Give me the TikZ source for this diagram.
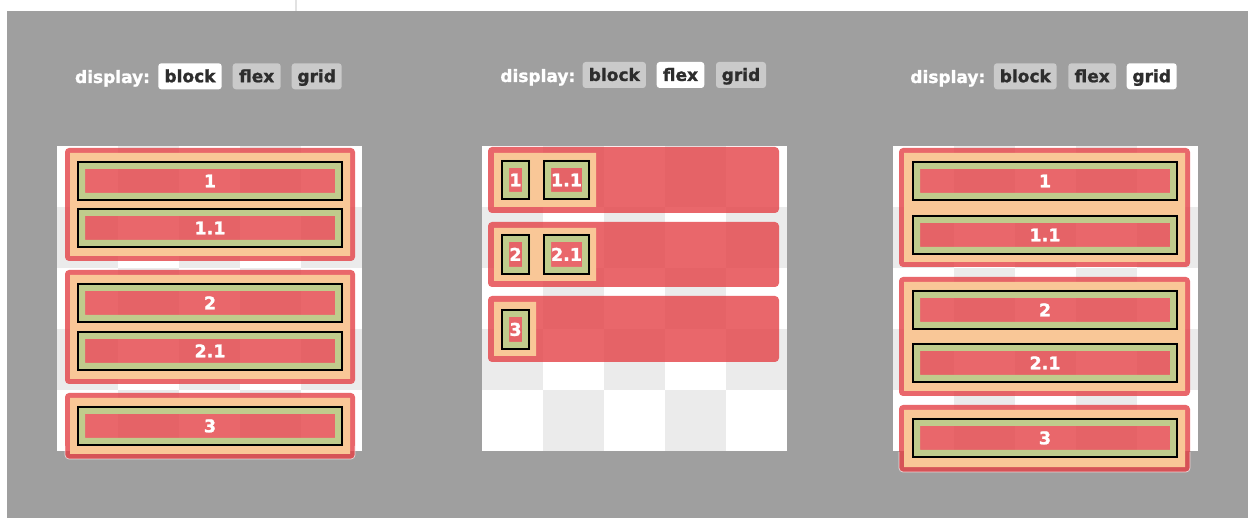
\documentclass[tikz,border=0pt]{standalone}
\usepackage{fontspec}
\setmainfont{DejaVu Sans}[BoldFeatures={FakeBold=1.3}]
\definecolor{bgc}{RGB}{159,159,159}
\definecolor{chk}{RGB}{235,235,235}
\definecolor{redc}{RGB}{228,65,70}
\definecolor{orc}{RGB}{249,199,151}
\definecolor{grc}{RGB}{192,203,140}
\definecolor{btnc}{RGB}{202,202,202}
\definecolor{txtc}{RGB}{45,45,45}
\definecolor{linec}{RGB}{226,226,226}
\tikzset{
  outerbox/.style={fill=redc, fill opacity=0.8, rounded corners=4pt},
  blk/.style={draw=black, line width=1.6pt},
  num/.style={text=white, font=\fontsize{17.5}{17.5}\selectfont\bfseries, inner sep=0pt, text height=12.6pt, text depth=0pt},
  lab/.style={text=white, font=\fontsize{17}{17}\selectfont\bfseries, inner sep=0pt, anchor=base},
  btn/.style={fill=btnc, text=txtc, rounded corners=3pt, font=\fontsize{17}{17}\selectfont\bfseries, inner sep=0pt, minimum height=26pt, text height=11.8pt, text depth=0pt},
  on/.style={fill=white},
  edgeline/.style={draw=white, draw opacity=0.7, line width=0.7pt, rounded corners=4pt},
}
\newcommand\checker[2]{%
  \fill[white] (#1,#2) rectangle ++(305,305);
  \foreach \i in {0,...,4}{\foreach \j in {0,...,4}{%
    \pgfmathtruncatemacro\pp{mod(\i+\j,2)}%
    \ifnum\pp=1 \fill[chk] ({#1+61*\i},{#2+61*\j}) rectangle ++(61,61);\fi}}}
\newcommand\child[6]{%
  \fill[grc, even odd rule] (#1,#2) rectangle (#3,#4) ({#1+8},{#2+8}) rectangle ({#3-8},{#4-8});
  \draw[blk] ({#1+0.8},{#2+0.8}) rectangle ({#3-0.8},{#4-0.8});
  \node[num] (#6) at ({(#1+#3)/2},{(#2+#4)/2}) {#5};}
\begin{document}
\begin{tikzpicture}[x=1pt, y=-1pt]
\useasboundingbox (0,0) rectangle (1248,518);
% page background
\fill[white] (0,0) rectangle (1248,518);
\fill[bgc] (7,11) rectangle (1248,518);
\draw[linec, line width=1.5pt] (296,0) -- (296,11);

% ---------- labels ----------
\node[lab] (d1) at (112.5,83) {display:};
\node[btn, on, minimum width=63.4pt] (p1b) at (190,76.3) {block};
\node[btn, minimum width=48pt] (p1f) at (256.7,76.3) {flex};
\node[btn, minimum width=50pt] (p1g) at (316.7,76.3) {grid};

\node[lab] (d2) at (537.8,82) {display:};
\node[btn, minimum width=63.3pt] (p2b) at (614.3,75) {block};
\node[btn, on, minimum width=47.6pt] (p2f) at (680.5,75) {flex};
\node[btn, minimum width=50pt] (p2g) at (741,75) {grid};

\node[lab] (d3) at (947.8,83) {display:};
\node[btn, minimum width=62.7pt] (p3b) at (1025.3,76.3) {block};
\node[btn, minimum width=47.7pt] (p3f) at (1092.2,76.3) {flex};
\node[btn, on, minimum width=50pt] (p3g) at (1151.7,76.3) {grid};

% ---------- panel 1 : block ----------
\checker{57}{146}
\fill[outerbox] (65,148) rectangle (355,261);
\fill[orc, even odd rule] (70,153) rectangle (350,256) (77,161) rectangle (343,201) (77,208) rectangle (343,248);
\child{77}{161}{343}{201}{1}{a1}
\child{77}{208}{343}{248}{1.1}{a11}
\fill[outerbox] (65,270) rectangle (355,384);
\fill[orc, even odd rule] (70,275) rectangle (350,379) (77,283) rectangle (343,323) (77,331) rectangle (343,371);
\child{77}{283}{343}{323}{2}{a2}
\child{77}{331}{343}{371}{2.1}{a21}
\fill[outerbox] (65,393) rectangle (355,459);
\draw[edgeline] (65,446) -- (65,459) -- (355,459) -- (355,446);
\fill[orc, even odd rule] (70,398) rectangle (350,454) (77,406) rectangle (343,446);
\child{77}{406}{343}{446}{3}{a3}

% ---------- panel 2 : flex ----------
\checker{482}{146}
\fill[outerbox] (488,147) rectangle (779,213);
\fill[orc, even odd rule] (494,153) rectangle (596,207) (501,160) rectangle (530,200) (543,160) rectangle (590,200);
\child{501}{160}{530}{200}{1}{b1}
\child{543}{160}{590}{200}{1.1}{b11}
\fill[outerbox] (488,222) rectangle (779,287);
\fill[orc, even odd rule] (494,228) rectangle (596,281) (501,234) rectangle (530,275) (543,234) rectangle (590,275);
\child{501}{234}{530}{275}{2}{b2}
\child{543}{234}{590}{275}{2.1}{b21}
\fill[outerbox] (488,296) rectangle (779,362);
\fill[orc, even odd rule] (494,302) rectangle (536,356) (501,309) rectangle (530,350);
\child{501}{309}{530}{350}{3}{b3}

% ---------- panel 3 : grid ----------
\checker{893}{146}
\fill[outerbox] (899,148) rectangle (1190,267);
\fill[orc, even odd rule] (904,153) rectangle (1185,262) (912,161) rectangle (1178,201) (912,215) rectangle (1178,255);
\child{912}{161}{1178}{201}{1}{c1}
\child{912}{215}{1178}{255}{1.1}{c11}
\fill[outerbox] (899,277) rectangle (1190,396);
\fill[orc, even odd rule] (904,282) rectangle (1185,391) (912,290) rectangle (1178,330) (912,343) rectangle (1178,383);
\child{912}{290}{1178}{330}{2}{c2}
\child{912}{343}{1178}{383}{2.1}{c21}
\fill[outerbox] (899,405) rectangle (1190,472);
\draw[edgeline] (899,452) -- (899,472) -- (1190,472) -- (1190,452);
\fill[orc, even odd rule] (904,410) rectangle (1185,467) (912,418) rectangle (1178,458);
\child{912}{418}{1178}{458}{3}{c3}
\end{tikzpicture}
\end{document}
